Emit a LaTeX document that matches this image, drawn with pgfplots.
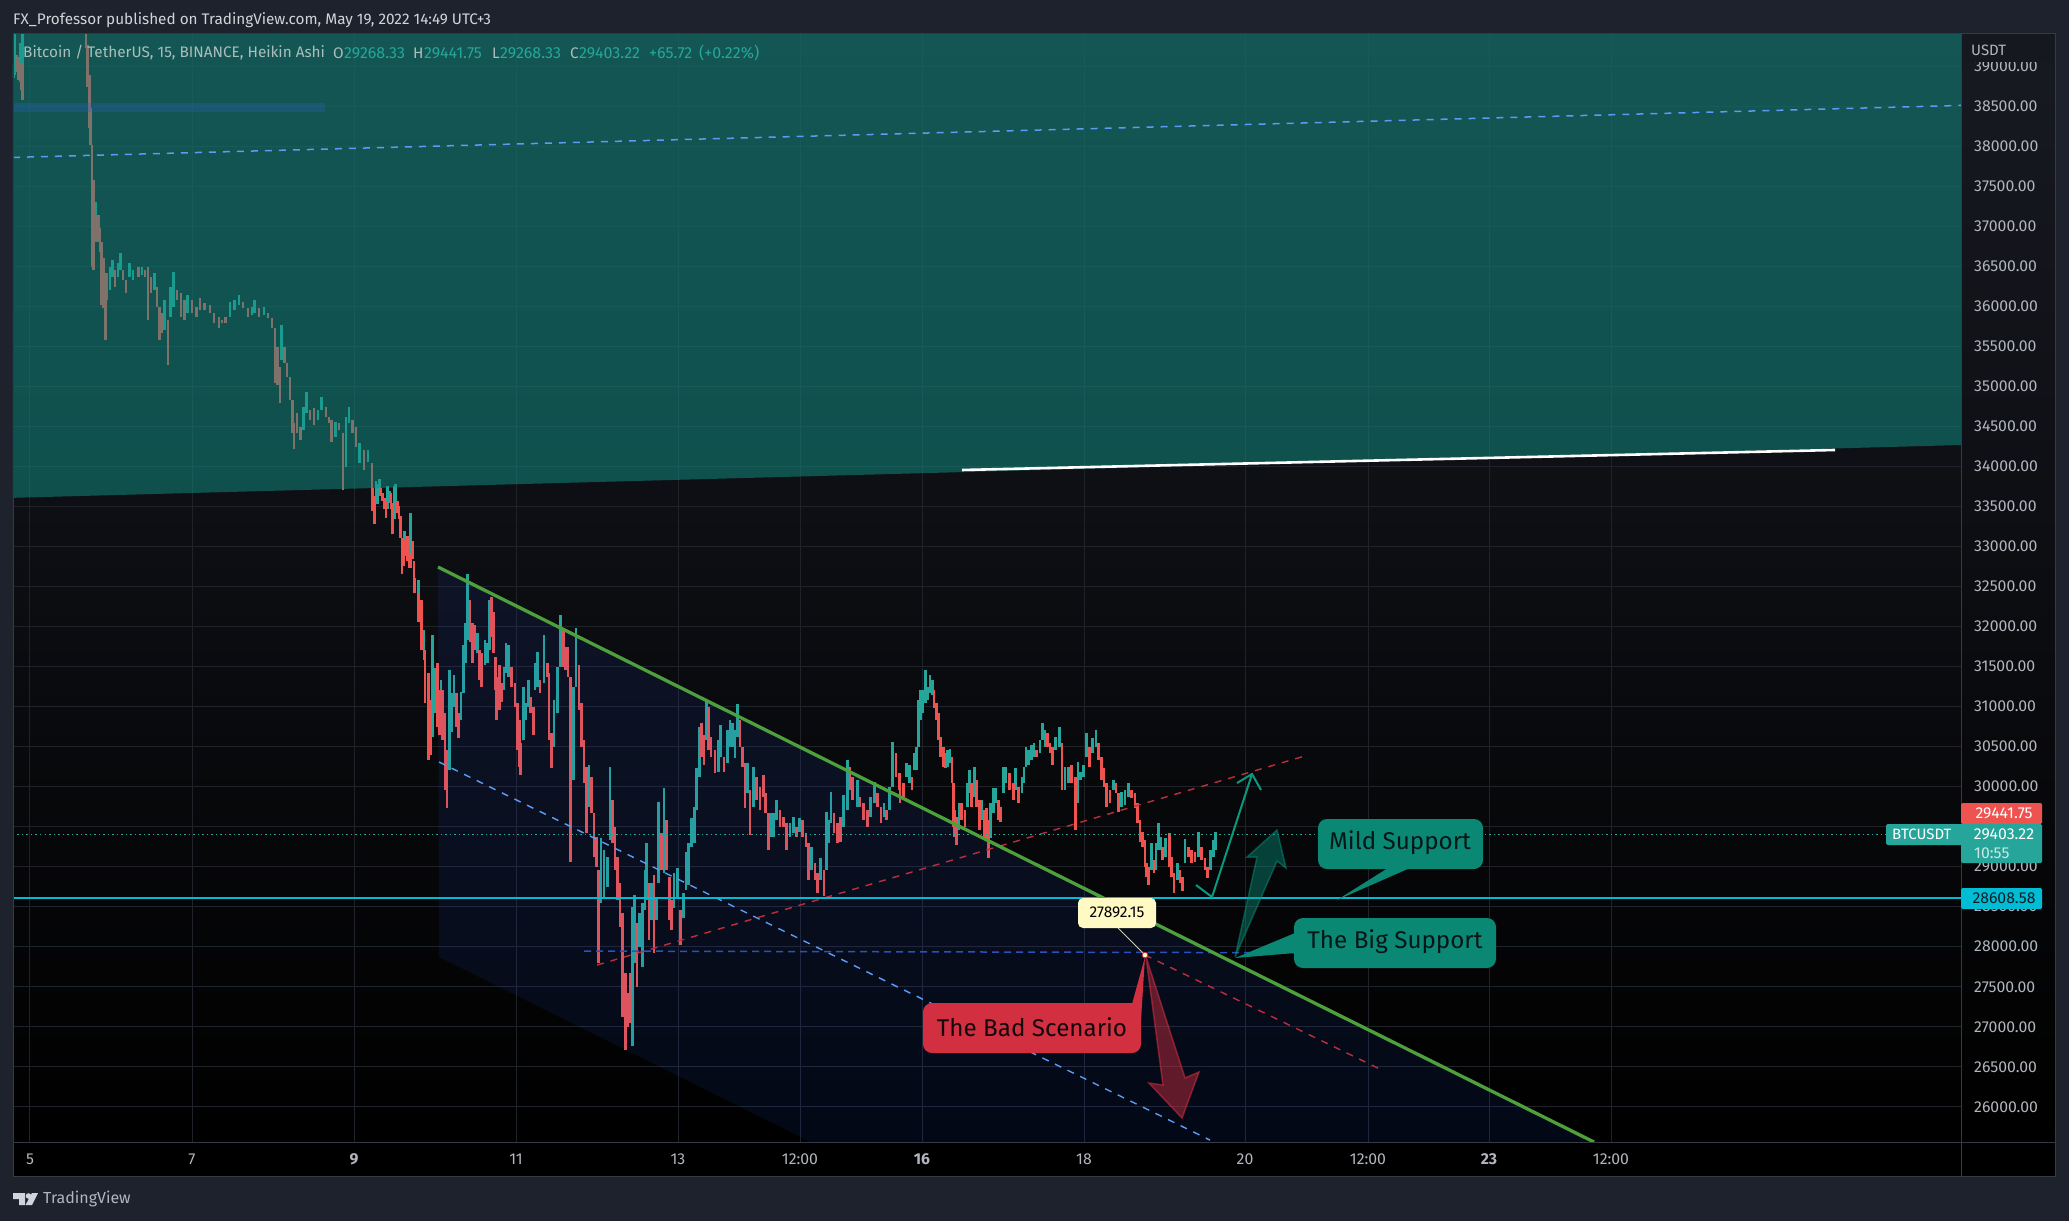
\documentclass[border=0pt]{standalone}
\usepackage{pgfplots}
\usepackage{pgfplotstable}
\usepackage{fontspec}
\pgfplotsset{compat=1.18}
\setmainfont{Fira Sans}
\definecolor{frame}{RGB}{30,34,45}
\definecolor{sep}{RGB}{54,58,69}
\definecolor{gridc}{RGB}{32,34,41}
\definecolor{upc}{RGB}{38,166,154}
\definecolor{dnc}{RGB}{239,83,80}
\definecolor{zone}{RGB}{16,146,134}
\definecolor{strip}{RGB}{41,98,200}
\definecolor{chan}{RGB}{41,98,255}
\definecolor{lblue}{RGB}{91,156,246}
\definecolor{trend}{RGB}{78,160,60}
\definecolor{rdash}{RGB}{190,45,60}
\definecolor{hdash}{RGB}{41,82,190}
\definecolor{cyanl}{RGB}{0,188,212}
\definecolor{call}{RGB}{10,136,115}
\definecolor{arr}{RGB}{8,153,129}
\definecolor{badc}{RGB}{210,47,65}
\definecolor{txtg}{RGB}{178,181,190}
\definecolor{paneTop}{RGB}{24,26,34}
\definecolor{hdr}{RGB}{22,24,31}
\definecolor{cream}{RGB}{255,249,196}
\definecolor{leader}{RGB}{205,205,175}
\definecolor{titlec}{RGB}{210,212,218}
\definecolor{legc}{RGB}{170,190,190}
\definecolor{lbl2}{RGB}{200,232,228}
\definecolor{dk1}{RGB}{10,30,40}
\definecolor{dk2}{RGB}{5,22,25}
\definecolor{dk3}{RGB}{20,8,12}
\definecolor{logoc}{RGB}{209,212,220}
\pgfplotstableread{
x lo hi
13.7 38854 39021
14.7 38896 39404
20 38813 39292
22.7 39021 39404
95.3 36813 37313
98.7 36854 37146
107 36083 36417
110 36208 36500
112.5 36375 36583
118 36375 36542
120.5 36458 36667
129.5 36375 36542
133 36333 36458
142 36396 36500
154.5 36208 36417
164.5 35708 36083
170.5 35875 36250
173.5 36000 36437
187.5 35917 36146
230 35875 36063
234.5 35958 36083
239 36021 36146
252 35896 36000
254.5 35917 36083
264 35896 36000
281.5 35333 35771
303.5 34458 34750
306.5 34667 34937
318 34583 34708
321.5 34708 34875
335.5 34375 34562
346 34000 34625
349 34542 34750
359.5 34042 34292
368 34062 34208
376 33613 33821
377.7 33529 33779
379.3 33634 33842
387.7 33467 33759
389.3 33550 33696
394.3 33342 33759
395.7 33571 33779
404.7 32884 33196
406 32904 33092
410.7 32738 33425
418.3 32375 32583
424 31583 31958
432.7 30625 31896
435 30916 31479
441 30916 31333
449.3 30208 31458
451.7 30687 31166
454 31000 31396
461 30833 31187
463.3 31166 31771
465.3 31541 32041
467.7 31833 32658
477.3 31666 31916
485 31521 31833
487.3 31541 31791
489.3 31708 32333
504 31208 31500
506 31416 31791
508.7 31375 31771
523.3 30583 31250
526 30833 31041
528.3 31000 31333
535 31208 31541
537.3 31250 31687
544 31291 31896
554 30500 31083
557.3 30916 31500
560.7 31500 32145
573.3 30083 31250
576 31250 31979
589 29750 30270
601 28541 29354
604 28625 29208
607.3 28750 29125
610 29333 30250
632.3 26762 28500
634.3 27791 28645
639.3 28000 28416
642.3 27750 28541
645 28458 28958
646.7 28583 29291
651.7 28333 28791
656.7 28333 28625
658.3 28791 29812
664 28916 29979
674 28479 28916
677.3 28604 28979
683.3 28354 28666
686 28708 29187
688.7 28770 29291
691.7 29250 29604
694.3 29291 29750
696.7 29708 30229
699.3 30125 30750
706.7 30583 31062
718.3 30187 30583
720.7 30375 30770
727.3 30291 30708
730 30500 30833
732.7 30500 30791
735 30354 30708
737.7 30625 31033
747.3 29916 30291
753.3 29750 30250
771 29375 29666
773.3 29375 29666
776.7 29583 29833
790 29375 29541
793.3 29416 29625
799.3 29437 29604
811.7 28958 29250
820.7 28833 29104
826.7 28958 29687
828.3 29291 29583
831 29541 29937
843.3 29500 29895
847.3 29708 30333
857.3 29750 30083
870.7 29625 29875
874.3 29791 30062
884 29625 29791
889.3 29708 30000
892.3 30000 30562
906.7 30125 30291
909.3 30041 30270
914 30208 30416
916.7 30208 30500
918.7 30500 31083
920.7 30833 31208
922.7 30916 31208
925.3 31041 31458
928 31083 31250
930 31166 31395
932.3 31145 31333
945.3 30229 30416
947.3 30250 30458
950 30291 30466
959 29458 29791
967.3 29750 30041
969.3 29916 30208
974.3 29875 30250
981.7 29583 29833
990.7 29354 29791
993.3 29666 29979
995.7 29791 29979
1003.3 29916 30250
1006 30041 30250
1015.7 29958 30229
1022 29916 30125
1024 30041 30250
1026 30250 30500
1028.3 30270 30458
1031.7 30333 30520
1034 30375 30541
1040 30416 30583
1042.7 30583 30791
1045 30500 30708
1055.3 30458 30625
1059.3 30500 30741
1065 29958 30250
1068.3 30041 30250
1078 29791 30312
1080.7 30083 30187
1083.3 30125 30270
1086.7 30375 30666
1092.3 30416 30604
1096 30500 30708
1113.3 29958 30083
1121.7 29750 29937
1125 29770 29958
1128.3 29875 30041
1151.3 28958 29291
1156 28958 29291
1158.3 29208 29541
1160.7 29208 29375
1165.3 29125 29354
1177.3 28833 29041
1185 29041 29345
1198.3 29125 29437
1210.7 28958 29208
1213.3 29125 29333
1215.7 29208 29437
}\updata
\pgfplotstableread{
x lo hi
16.7 38938 39146
18.3 38833 39125
21.3 38708 39042
22.7 38583 39042
86 39229 39404
87.7 38750 39271
89.3 38229 38896
90.7 38021 38479
92 36500 38021
93.3 36458 37583
97.3 36813 37146
100 36688 36979
101.7 36021 36813
103.3 35979 36604
105.3 35583 36417
115 36250 36458
123 36333 36458
126 36167 36333
138.5 36375 36500
145 36375 36458
148 35833 36500
151 36167 36375
157 36000 36250
159.5 35583 36000
161.5 35667 35917
168 35271 35833
177 36083 36208
181 35875 36167
184.5 35833 36083
192 35917 36083
196.5 35875 36000
200 35958 36104
204.5 35958 36042
210 35917 36021
214 35792 35917
219 35729 35875
222 35792 35833
225.5 35792 35875
243 35979 36063
248 35875 35979
259 35875 35979
268 35854 35917
272 35729 35854
275 35042 35729
277.5 35021 35500
280 34792 35250
284.5 35292 35500
287 35125 35292
290 34833 35125
292.5 34417 34833
294 34217 34542
297 34417 34667
300.5 34333 34500
310 34583 34708
314 34521 34729
326 34625 34750
329 34542 34625
331.5 34312 34583
339 34458 34542
343 33708 34417
352.5 34417 34583
356 34250 34500
364 33958 34208
372 33583 34042
372.7 33446 33738
374.3 33279 33634
381 33634 33738
382.7 33571 33675
384.3 33467 33613
386 33363 33571
391 33467 33675
392.7 33154 33550
397.3 33425 33571
399 33350 33509
400.7 33113 33384
402 32654 33113
403.3 32759 33092
407.7 32821 33134
409.3 32738 32925
412.3 32842 33071
414 32425 32821
415 32416 32604
418.3 32062 32416
421.7 31708 32333
425 31042 31708
428.3 30333 31416
430.7 30396 31083
437.7 30750 31541
439.3 30646 31208
442.7 30583 31208
445 29958 30916
447 29729 30458
456.7 30750 31166
458.7 30604 30916
470 31812 32333
472.7 31541 32041
475 31708 32021
479.3 31333 31708
481.7 31250 31666
491.7 31875 32375
493.3 31666 32187
495.3 31208 31625
496.7 30833 31375
499.3 30958 31521
501.7 31062 31291
511.7 31250 31500
515 31000 31291
517.3 30458 31041
519.3 30250 30833
520.7 30146 30541
530.7 30916 31125
533.3 30646 31000
540 31166 31333
547.3 31375 31541
549 30583 31416
551.7 30229 30666
563.3 31500 31958
565.7 31458 31750
568 31375 31750
570.7 29062 31375
579 30958 31521
581.7 30500 31041
584 30041 30583
586.7 29416 30250
591.7 29666 30125
594 29125 29666
596.7 29000 29375
598.7 27791 28958
612.3 29291 29833
615 28958 29500
617.3 28583 29125
620 28250 28791
622.7 27125 28416
625.3 26708 27666
628 27000 27416
630.7 27041 27666
637 27500 28291
649 28083 28791
654 27916 28895
661.7 28958 29416
666.7 28958 29583
669.3 28333 28875
671.7 28208 28583
680.7 28020 28458
701.7 30375 30791
704 30270 30645
708.3 30458 31000
711 30375 30625
715 30166 30458
724 30187 30375
740 30500 30833
742.7 30250 30500
745 29729 30291
750 29395 29958
756.7 29833 30125
760 29708 30000
763.3 29875 30145
765.7 29666 29916
768.3 29208 29666
780 29500 29708
783.3 29500 29625
786.7 29208 29541
796.7 29375 29500
802.7 29375 29583
806 29250 29416
808.3 28833 29291
815 28833 29041
817.7 28666 28916
824 28633 28958
834 29416 29666
837.3 29291 29541
840.7 29312 29625
850 29958 30250
852.7 29833 30125
860 29750 29875
863.3 29583 29791
867.7 29500 29708
877.3 29750 29916
881 29541 29750
886.7 29583 29708
896 30125 30416
899 29958 30166
900 29791 30166
903.3 29875 30041
912 29958 30125
934 30979 31208
936.7 30833 31041
938.7 30583 30916
940.7 30375 30625
943.3 30250 30500
952 30041 30375
953.3 29500 30041
954.7 29375 29708
956.7 29270 29625
961.7 29583 29791
965 29500 29708
971.7 29750 30041
976.7 29750 30083
979.3 29458 29833
984 29375 29708
986.7 29333 29729
988.3 29104 29583
998.3 29583 29833
1000.7 29562 29750
1009.3 29958 30166
1013.3 29833 30041
1018.7 29791 30000
1036.7 30375 30458
1047.3 30500 30666
1050 30416 30541
1052.7 30270 30500
1062 29958 30541
1071.7 30041 30270
1075.3 29458 30125
1089.3 30250 30500
1098.7 30333 30541
1101.3 30083 30375
1104 30000 30229
1106.7 29750 30041
1110 29791 29958
1116 29916 30041
1118.7 29687 29916
1131.7 29854 29958
1135 29729 29916
1137.3 29541 29791
1140 29312 29583
1142.7 29250 29437
1145 29000 29333
1146.7 28875 29041
1148.7 28770 29000
1154 28916 29083
1162.7 29083 29250
1169.3 29000 29416
1171.7 28875 29125
1174 28666 28916
1180 28791 28958
1182.7 28700 28875
1188.3 29125 29250
1191.7 29041 29208
1195 29062 29187
1201.7 29083 29250
1205 28958 29104
1207.7 28862 29000
}\dndata
\begin{document}
\begin{tikzpicture}
\path[use as bounding box] (0,0) rectangle (2069pt,-1221pt);
\fill[frame] (0,0) rectangle (2069pt,-1221pt);
\shade[top color=paneTop,bottom color=black] (13pt,-33pt) rectangle (2055pt,-1142pt);
\fill[black] (13pt,-1142pt) rectangle (2055pt,-1176pt);
\begin{axis}[
  at={(13pt,-1142pt)},anchor=south west,
  width=1948pt,height=1109pt,scale only axis,
  xmin=13,xmax=1961,ymin=25559,ymax=39421,
  axis line style={draw=none},
  major tick length=0pt,
  grid=major,grid style={color=gridc,line width=1pt},
  xtick={30,192,354,516,678,800,922,1084,1245,1368,1489,1611},
  xticklabels={5,7,\textbf{9},11,13,12:00,\textbf{16},18,20,12:00,\textbf{23},12:00},
  ytick={26000,26500,27000,27500,28000,28500,29000,29500,30000,30500,31000,31500,32000,32500,33000,33500,34000,34500,35000,35500,36000,36500,37000,37500,38000,38500,39000},
  yticklabel pos=right,
  scaled y ticks=false,
  /pgf/number format/assume math mode=true,
  /pgf/number format/fixed,/pgf/number format/fixed zerofill,/pgf/number format/precision=2,/pgf/number format/1000 sep={},
  tick label style={font=\fontsize{15.8}{17}\selectfont,text=txtg},
  yticklabel style={anchor=west,inner sep=0pt,xshift=13pt},
  xticklabel style={anchor=base,inner sep=0pt,yshift=-22pt},
]
\addplot[draw=none,mark=none,forget plot,error bars/.cd,y dir=plus,y explicit,error mark=none,error bar style={line width=2.5pt,color=upc}]
  table[x=x,y=lo,y error plus expr=\thisrow{hi}-\thisrow{lo}] {\updata};
\addplot[draw=none,mark=none,forget plot,error bars/.cd,y dir=plus,y explicit,error mark=none,error bar style={line width=2.5pt,color=dnc}]
  table[x=x,y=lo,y error plus expr=\thisrow{hi}-\thisrow{lo}] {\dndata};
% zone above the long line
\addplot[fill=zone,fill opacity=.5,draw=none,forget plot] coordinates {(13,33611) (1961,34271) (1961,39421) (13,39421)} -- cycle;
\addplot[fill=strip,fill opacity=.28,draw=none,forget plot] coordinates {(13,38434) (325,38434) (325,38546) (13,38546)} -- cycle;
\addplot[lblue,line width=1.5pt,dash pattern=on 7pt off 7pt,forget plot] coordinates {(13,37866) (1961,38516)};
% channel
\addplot[fill=chan,fill opacity=.09,draw=none,forget plot] coordinates {(438,32746) (1594,25559) (811,25559) (439,27871)} -- cycle;
\addplot[lblue,line width=1.4pt,dash pattern=on 7pt off 7pt,forget plot] coordinates {(439,30309) (1210,25583)};
\addplot[hdash,line width=1.5pt,dash pattern=on 7pt off 5pt,forget plot] coordinates {(584,27946) (1423,27921)};
\addplot[rdash,line width=1.4pt,dash pattern=on 7pt off 7pt,forget plot] coordinates {(597,27771) (1308,30396)};
\addplot[rdash,line width=1.4pt,dash pattern=on 7pt off 7pt,forget plot] coordinates {(1145,27896) (1384,26446)};
% horizontals
\addplot[cyanl,line width=1.3pt,forget plot] coordinates {(13,28608.58) (1961,28608.58)};
\addplot[upc,line width=1.2pt,dash pattern=on 1.5pt off 3pt,forget plot] coordinates {(13,29403.22) (1886,29403.22)};
\addplot[white,line width=2.6pt,forget plot] coordinates {(962,33959) (1835,34209)};
\addplot[trend,line width=3.3pt,forget plot] coordinates {(438,32746) (1594,25559)};
% arrows
\addplot[arr,line width=2pt,forget plot] coordinates {(1196,28771) (1212,28621) (1252,30159)};
\addplot[arr,line width=2pt,forget plot] coordinates {(1237,30046) (1252,30159) (1261,29959)};
\addplot[fill=arr,fill opacity=.4,draw=arr,draw opacity=.45,line width=1.5pt,forget plot] coordinates {(1235,27871) (1257,29121) (1247,29121) (1277,29459) (1286,28984) (1277,29071)} -- cycle;
\addplot[fill=badc,fill opacity=.45,draw=badc,draw opacity=.55,line width=1.5pt,forget plot] coordinates {(1146,27871) (1163,26271) (1149,26296) (1182,25859) (1199,26434) (1185,26359)} -- cycle;
\addplot[color=leader,line width=1pt,forget plot] coordinates {(1118,28234) (1145,27896)};
\addplot[only marks,mark=*,mark size=2.8pt,mark options={fill=cream,draw=badc,line width=.8pt},forget plot] coordinates {(1145,27896)};
\end{axis}
\begin{scope}[x=1pt,y=-1pt]
% separators
\draw[sep,line width=1pt] (1961,33) -- (1961,1176);
\draw[sep,line width=1pt] (13,1142) -- (2055,1142);
\draw[sep,line width=1pt] (13,33) rectangle (2055,1176);
% price-scale header
\fill[hdr] (1962,34) rectangle (2054,62);
\node[anchor=west,inner sep=0,text=txtg,font=\fontsize{15}{16}\selectfont] at (1971,50) {USDT};
% title rows
\node[anchor=west,inner sep=0,text=titlec,font=\fontsize{15.3}{16}\selectfont] at (13,20) {FX\_Professor published on TradingView.com, May 19, 2022 14:49 UTC+3};
\begin{scope}[every node/.style={anchor=west,inner sep=0,font=\fontsize{15.3}{16}\selectfont}]
\node[text=legc] at (23,53) {Bitcoin / TetherUS, 15, BINANCE, Heikin Ashi};
\node[text=legc] at (333,53) {O};
\node[text=upc,font=\fontsize{16}{17}\selectfont] at (344,53) {29268.33};
\node[text=legc] at (413,53) {H};
\node[text=upc,font=\fontsize{16}{17}\selectfont] at (424,53) {29441.75};
\node[text=legc] at (492,53) {L};
\node[text=upc,font=\fontsize{16}{17}\selectfont] at (500,53) {29268.33};
\node[text=legc] at (570,53) {C};
\node[text=upc,font=\fontsize{16}{17}\selectfont] at (579,53) {29403.22};
\node[text=upc,font=\fontsize{16}{17}\selectfont] at (649,53) {+65.72};
\node[text=upc,font=\fontsize{16}{17}\selectfont] at (699,53) {(+0.22\%)};
\end{scope}
% price labels
\fill[dnc,rounded corners=1.5pt] (1961,803) rectangle (2042,824);
\node[text=white,font=\fontsize{15.8}{17}\selectfont] at (2004,813.5) {29441.75};
\fill[upc,rounded corners=1.5pt] (1961,824) rectangle (2042,863);
\fill[upc,rounded corners=1.5pt] (1886,824) rectangle (1965,845);
\node[text=white,font=\fontsize{15.8}{17}\selectfont] at (2004,834.5) {29403.22};
\node[text=lbl2,anchor=west,inner sep=0,font=\fontsize{15.8}{17}\selectfont] at (1974,853) {10:55};
\node[text=white,anchor=west,inner sep=0,font=\fontsize{15}{17}\selectfont] at (1892,834.5) {BTCUSDT};
\fill[cyanl,rounded corners=1.5pt] (1961,888) rectangle (2042,909);
\node[text=dk1,font=\fontsize{15.8}{17}\selectfont] at (2004,898.5) {28608.58};
% callouts
\fill[call] (1388,868) -- (1410,868) -- (1337,900) -- cycle;
\fill[call,rounded corners=9pt] (1318,819) rectangle (1483,869);
\node[text=dk2,font=\fontsize{24.2}{26}\selectfont] at (1400,843) {Mild Support};
\fill[call] (1295,933) -- (1295,953) -- (1235,958) -- cycle;
\fill[call,rounded corners=9pt] (1294,918) rectangle (1496,968);
\node[text=dk2,font=\fontsize{24.2}{26}\selectfont] at (1395,942) {The Big Support};
\fill[badc] (1132,1004) -- (1141,1020) -- (1145,957) -- cycle;
\fill[badc,rounded corners=9pt] (923,1003) rectangle (1141,1053);
\node[text=dk3,font=\fontsize{24.2}{26}\selectfont] at (1032,1027) {The Bad Scenario};
\fill[cream,rounded corners=5pt] (1078,898) rectangle (1156,928);
\node[text=black,font=\fontsize{15.6}{17}\selectfont] at (1117,912) {27892.15};
% logo
\begin{scope}[fill=logoc]
\fill (13,1193) -- (25,1193) -- (25,1205) -- (19,1205) -- (19,1199) -- (13,1199) -- cycle;
\fill (28.5,1196) circle (2.8);
\fill (32,1193) -- (38,1193) -- (32,1205) -- (25.5,1205) -- cycle;
\end{scope}
\node[anchor=west,inner sep=0,text=txtg,font=\fontsize{16}{17}\selectfont] at (43,1199) {TradingView};
\end{scope}
\end{tikzpicture}
\end{document}
